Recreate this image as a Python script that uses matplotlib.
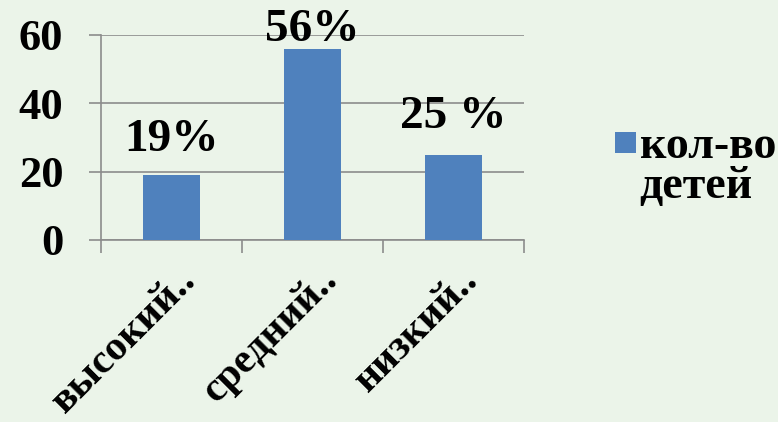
import numpy as np
import matplotlib.pyplot as plt
import matplotlib.transforms as mtransforms
from matplotlib.patches import Rectangle

categories = ["высокий..", "средний..", "низкий.."]
values = [19, 56, 25]
value_labels = ["19%", "56%", "25 %"]
series_name = ["кол-во", "детей"]
yticks = [0, 20, 40, 60]

bg = '#ebf4e9'
bar_color = '#4f81bd'
grid_color = '#8c8c8c'

plt.rcParams['font.family'] = ['Liberation Serif', 'DejaVu Serif']
plt.rcParams['font.weight'] = 'bold'

fig = plt.figure(figsize=(7.78, 4.22), dpi=100, facecolor=bg)
ax = fig.add_axes([0.1298, 0.4313, 0.5437, 0.4858], facecolor=bg)

x = np.arange(len(categories))
bars = ax.bar(x, values, width=0.4, color=bar_color, zorder=3)

ax.set_xlim(-0.5, len(categories) - 0.5)
ax.set_ylim(0, 60)
ax.set_yticks(yticks)
ax.yaxis.grid(True, color=grid_color, linewidth=1.2, zorder=0)
for s in ['top', 'right']:
    ax.spines[s].set_visible(False)
for s in ['left', 'bottom']:
    ax.spines[s].set_color(grid_color)
    ax.spines[s].set_linewidth(1.2)

ax.tick_params(axis='y', length=9, width=1.2, color=grid_color, pad=18, labelsize=32)
ax.set_xticks(x)
ax.set_xticks(np.arange(len(categories) + 1) - 0.5, minor=True)
ax.tick_params(axis='x', which='major', length=0, pad=15)
ax.tick_params(axis='x', which='minor', length=9, width=1.2, color=grid_color)
ax.set_xticklabels(categories, rotation=45, ha='right', va='top',
                   rotation_mode='anchor', fontsize=30)
shift = mtransforms.ScaledTranslation(4 / 72, 0, fig.dpi_scale_trans)
for lab in ax.get_xticklabels():
    lab.set_transform(lab.get_transform() + shift)

# data labels (manually placed above the bars as in the original)
offsets = [10, -2, 12]
for b, lab, off in zip(bars, value_labels, offsets):
    ax.annotate(lab, (b.get_x() + b.get_width() / 2, b.get_height()),
                xytext=(0, off), textcoords='offset points',
                ha='center', va='bottom', fontsize=34, zorder=4)

# legend drawn by hand so the marker lines up with the first line
fig.patches.append(Rectangle((0.7905, 0.637), 0.027, 0.05, transform=fig.transFigure,
                             facecolor=bar_color, edgecolor='none'))
fig.text(0.822, 0.626, series_name[0], fontsize=33, ha='left', va='baseline')
fig.text(0.822, 0.531, series_name[1], fontsize=33, ha='left', va='baseline')

fig.savefig("out.png", dpi=100, facecolor=bg)
